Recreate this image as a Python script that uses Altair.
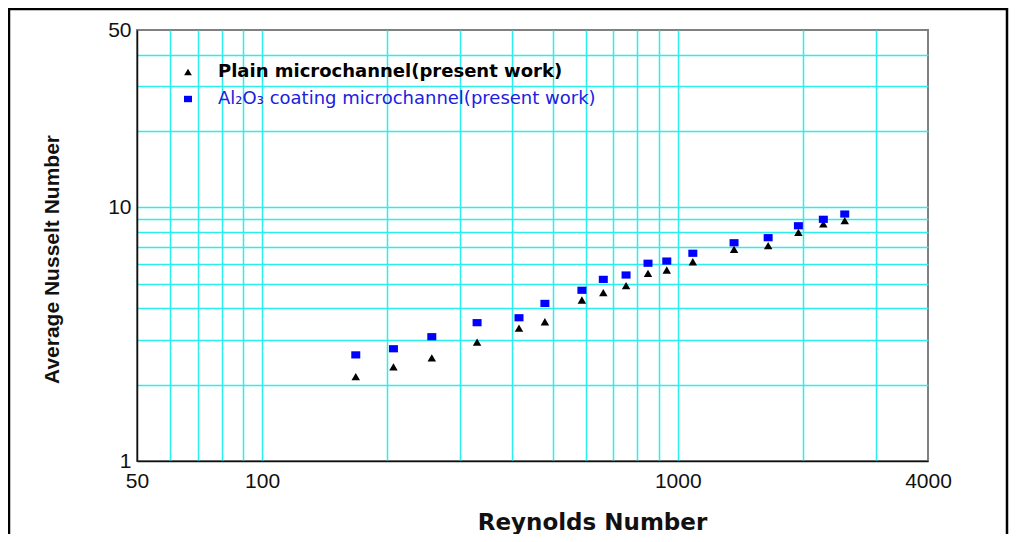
import altair as alt
import pandas as pd

# ---- data ----
reynolds = [168, 207, 256, 329, 415, 479, 588, 662, 751, 848, 941, 1087, 1366, 1650, 1951, 2240, 2522]
nu_plain = [2.15, 2.35, 2.55, 2.94, 3.34, 3.54, 4.31, 4.61, 4.91, 5.49, 5.66, 6.10, 6.83, 7.06, 7.97, 8.60, 8.86]
nu_coat = [2.62, 2.77, 3.09, 3.51, 3.67, 4.18, 4.71, 5.20, 5.41, 6.02, 6.14, 6.59, 7.25, 7.59, 8.46, 8.97, 9.41]

series_plain = "Plain microchannel(present work)"
series_coat = "Al\u2082O\u2083 coating microchannel(present work)"

x_tick_values = [50, 60, 70, 80, 90, 100, 200, 300, 400, 500, 600, 700, 800, 900, 1000, 2000, 3000, 4000]
x_label_values = [50, 100, 1000, 4000]
y_tick_values = [1, 2, 3, 4, 5, 6, 7, 8, 9, 10, 20, 30, 40, 50]
y_label_values = [1, 10, 50]

df_plain = pd.DataFrame({"Re": reynolds, "Nu": nu_plain, "series": series_plain})
df_coat = pd.DataFrame({"Re": reynolds, "Nu": nu_coat, "series": series_coat})

GRID = "#2BEFEF"
TICK_FONT = "Liberation Sans"

x_scale = alt.Scale(type="log", domain=[50, 4000], nice=False)
y_scale = alt.Scale(type="log", domain=[1, 50], nice=False)

x_axis = alt.Axis(
    values=x_tick_values, format="d",
    labelExpr="indexof(%s, datum.value) >= 0 ? datum.label : ''" % str(x_label_values),
    grid=True, gridColor=GRID, gridWidth=1.5,
    gridOpacity={"condition": {"test": "datum.value <= 50 || datum.value >= 4000", "value": 0}, "value": 1},
    ticks=False, domainColor="#111111", domainWidth=1.5,
    labelFont=TICK_FONT, labelFontSize=21, labelColor="#111111", labelPadding=9,
    labelFlush=False, labelOverlap=False, labelBound=False,
    title="Reynolds Number", titleFont="DejaVu Sans", titleFontSize=23, titleFontWeight="bold",
    titleColor="#111111", titleX=455, titleY=68, titleAlign="center", titleBaseline="alphabetic",
)
y_axis = alt.Axis(
    values=y_tick_values, format="d",
    labelExpr="indexof(%s, datum.value) >= 0 ? datum.label : ''" % str(y_label_values),
    grid=True, gridColor=GRID, gridWidth=1.5,
    gridOpacity={"condition": {"test": "datum.value <= 1 || datum.value >= 50", "value": 0}, "value": 1},
    ticks=False, domainColor="#111111", domainWidth=1.5,
    labelFont=TICK_FONT, labelFontSize=21, labelColor="#111111", labelPadding=6,
    labelOverlap=False, labelBound=False,
    title="Average Nusselt Number", titleFont="Liberation Sans", titleFontSize=21, titleFontWeight="bold",
    titleColor="#111111", titleAngle=270, titleX=-79, titleY=229, titleAlign="center", titleBaseline="alphabetic",
)

SQUARE = "M-1,-0.8H1V0.8H-1Z"

plain = alt.Chart(df_plain).mark_point(filled=True, size=72, color="black", opacity=1).encode(
    x=alt.X("Re:Q", scale=x_scale, axis=x_axis),
    y=alt.Y("Nu:Q", scale=y_scale, axis=y_axis),
    shape=alt.Shape("series:N", scale=alt.Scale(range=["triangle-up"]),
                    legend=alt.Legend(title=None, orient="none", legendX=42, legendY=33, padding=0,
                                      symbolSize=60, symbolFillColor="black", symbolStrokeWidth=0,
                                      labelFont="DejaVu Sans", labelFontSize=18, labelFontWeight="bold",
                                      labelColor="black", labelLimit=600, labelOffset=21)),
)

coat = alt.Chart(df_coat).mark_point(filled=True, size=81, color="#0000FF", opacity=1).encode(
    x=alt.X("Re:Q", scale=x_scale, axis=x_axis),
    y=alt.Y("Nu:Q", scale=y_scale, axis=y_axis),
    shape=alt.Shape("series:N", scale=alt.Scale(range=[SQUARE]),
                    legend=alt.Legend(title=None, orient="none", legendX=42, legendY=60, padding=0,
                                      symbolSize=64, symbolFillColor="#0000FF", symbolStrokeWidth=0,
                                      labelFont="DejaVu Sans", labelFontSize=18, labelFontWeight="normal",
                                      labelColor="#2020E0", labelLimit=600, labelOffset=21)),
)

frame = alt.Chart(pd.DataFrame({"f": [0]})).mark_rect(
    fillOpacity=0, stroke="black", strokeWidth=2.5
).encode(
    x=alt.value(-128), x2=alt.value(870), y=alt.value(-21), y2=alt.value(700)
)

chart = alt.layer(frame, plain, coat).resolve_scale(shape="independent").properties(
    width=791, height=431,
    autosize=alt.AutoSizeParams(type="none"),
    padding={"left": 129, "top": 22, "right": 81, "bottom": 73},
    background="white",
).configure_view(stroke="#808080", strokeWidth=2)

chart.save("out.html", embed_options={"renderer": "svg", "actions": False})
